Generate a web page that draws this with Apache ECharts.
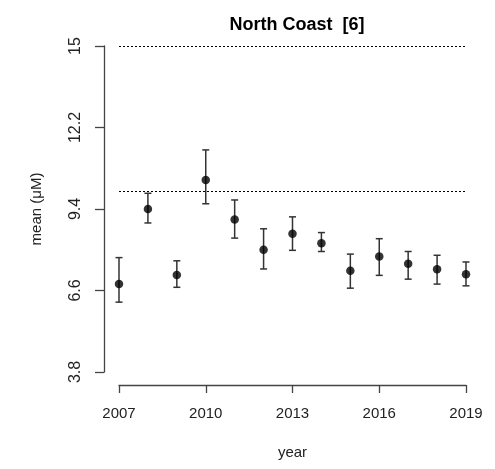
<!DOCTYPE html>
<html>
<head>
<meta charset="utf-8">
<script src="https://cdn.jsdelivr.net/npm/echarts@6/dist/echarts.min.js"></script>
<style>html,body{margin:0;padding:0;background:#fff;}#c{width:495px;height:469px;}</style>
</head>
<body>
<div id="c"></div>
<script>
const years = [2007, 2008, 2009, 2010, 2011, 2012, 2013, 2014, 2015, 2016, 2017, 2018, 2019];
const means = [6.82, 9.40, 7.13, 10.40, 9.04, 8.00, 8.55, 8.22, 7.28, 7.77, 7.52, 7.33, 7.16];
const upper = [7.73, 9.94, 7.62, 11.43, 9.71, 8.72, 9.13, 8.59, 7.85, 8.38, 7.94, 7.81, 7.58];
const lower = [6.20, 8.92, 6.71, 9.58, 8.40, 7.34, 7.98, 7.94, 6.68, 7.12, 6.99, 6.82, 6.76];
const yTicks = [3.8, 6.6, 9.4, 12.2, 15];
const xTicks = [2007, 2010, 2013, 2016, 2019];
const refLines = [15, 10];

const font = '"Liberation Sans", Arial, sans-serif';
const chart = echarts.init(document.getElementById('c'), null, {renderer: 'canvas'});

const errData = years.map((y, i) => [y, lower[i], upper[i]]);
const ptData = years.map((y, i) => [y, means[i]]);

chart.setOption({
  animation: false,
  title: {
    text: 'North Coast  [6]',
    left: 292, top: 11, textAlign: 'center',
    textStyle: {fontFamily: font, fontWeight: 'bold', fontSize: 18, color: '#000'}
  },
  grid: {left: 119, right: 29, top: 46, bottom: 97},
  xAxis: {
    type: 'value', min: 2007, max: 2019, offset: 13,
    name: 'year', nameLocation: 'middle', nameGap: 60,
    nameTextStyle: {fontFamily: font, fontSize: 15, color: '#222'},
    axisLine: {show: true, lineStyle: {color: '#444', width: 1.3}},
    axisTick: {show: true, length: 8, lineStyle: {color: '#444', width: 1.3}, customValues: xTicks},
    axisLabel: {fontFamily: font, fontSize: 15, color: '#222', margin: 21, customValues: xTicks,
      formatter: v => String(v)},
    splitLine: {show: false}
  },
  yAxis: {
    type: 'value', min: 3.8, max: 15, offset: 15,
    name: 'mean (\u03bcM)', nameLocation: 'middle', nameGap: 60, nameRotate: 90,
    nameTextStyle: {fontFamily: font, fontSize: 15, color: '#222'},
    axisLine: {show: true, lineStyle: {color: '#444', width: 1.3}},
    axisTick: {show: true, length: 9, lineStyle: {color: '#444', width: 1.3}, customValues: yTicks},
    axisLabel: {fontFamily: font, fontSize: 16, color: '#222', margin: 20, rotate: 90, customValues: yTicks,
      formatter: v => String(v)},
    splitLine: {show: false}
  },
  series: [
    {
      type: 'custom',
      data: errData,
      encode: {x: 0, y: [1, 2]},
      renderItem: function (params, api) {
        const x = api.value(0);
        const lo = api.coord([x, api.value(1)]);
        const hi = api.coord([x, api.value(2)]);
        const w = 3.5;
        const st = {stroke: '#333', lineWidth: 1.5};
        return {
          type: 'group',
          children: [
            {type: 'line', shape: {x1: lo[0], y1: lo[1], x2: hi[0], y2: hi[1]}, style: st},
            {type: 'line', shape: {x1: lo[0] - w, y1: lo[1], x2: lo[0] + w, y2: lo[1]}, style: st},
            {type: 'line', shape: {x1: hi[0] - w, y1: hi[1], x2: hi[0] + w, y2: hi[1]}, style: st}
          ]
        };
      },
      z: 2
    },
    {
      type: 'scatter',
      data: ptData,
      symbol: 'circle', symbolSize: 8.5,
      itemStyle: {color: '#000'},
      z: 3,
      markLine: {
        silent: true, symbol: 'none', label: {show: false},
        lineStyle: {type: [2, 2], color: '#000', width: 1.2},
        data: refLines.map(v => ({yAxis: v}))
      }
    }
  ]
});
</script>
</body>
</html>
